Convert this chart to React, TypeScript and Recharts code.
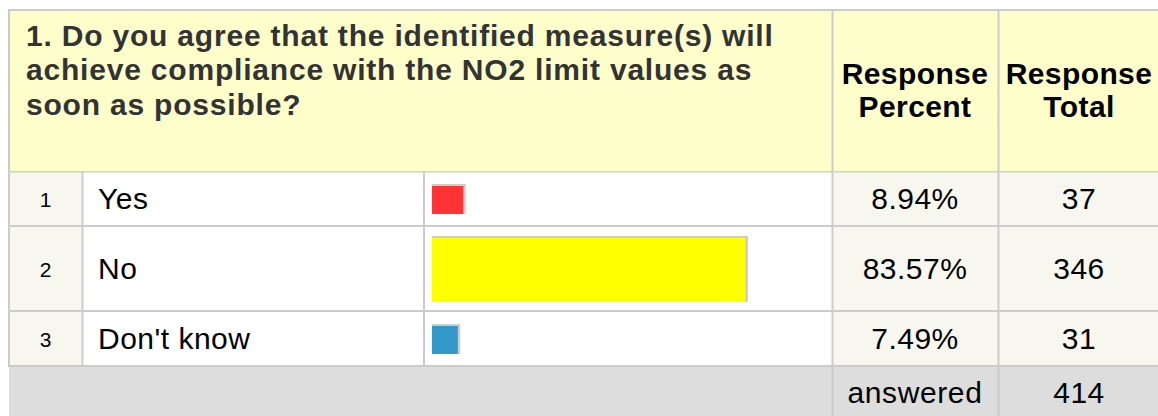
import React from "react";
import { BarChart, Bar, XAxis, YAxis } from "recharts";

const questionLines = [
  "1. Do you agree that the identified measure(s) will",
  "achieve compliance with the NO2 limit values as",
  "soon as possible?",
];
const rowNumbers = ["1", "2", "3"];
const labels = ["Yes", "No", "Don't know"];
const percents = [8.94, 83.57, 7.49];
const totals = [37, 346, 31];
const answeredLabel = "answered";
const answeredTotal = 414;

// styling / layout constants
const barColors = ["#ff3333", "#ffff00", "#3399cc"];
const barSizes = [30, 66, 30];
const rowTops = [172, 227, 312];
const rowHeights = [53, 83, 53];
const FONT = "'Liberation Sans', Arial, sans-serif";
const BORDER = "#cccccc";
const BAR_LEFT = 432;
const BAR_W = 378;

const ShadowBar = (props: any) => {
  const { x, y, width, height, fill } = props;
  if (!width || width <= 0) return null;
  return (
    <g>
      <rect x={x} y={y} width={width} height={height} fill="#cccccc" />
      <rect x={x} y={y + 2} width={Math.max(0, width - 2.5)} height={height - 2} fill={fill} />
    </g>
  );
};

export default function App() {
  const W = 1158;
  const H = 416;
  return (
    <div style={{ position: "absolute", left: 0, top: 0, width: W, height: H, background: "#fff" }}>
      <svg width={W} height={H} style={{ position: "absolute", left: 0, top: 0 }} fontFamily={FONT}>
        {/* header background */}
        <rect x={8} y={9} width={W - 8} height={163} fill="#ffffcc" />
        {/* body shaded columns */}
        <rect x={8} y={172} width={75} height={194} fill="#f7f7ef" />
        <rect x={832} y={172} width={W - 832} height={194} fill="#f7f7ef" />
        {/* footer */}
        <rect x={9} y={366} width={W - 9} height={50} fill="#dddddd" />

        {/* grid lines */}
        <rect x={8} y={9} width={W - 8} height={2} fill={BORDER} />
        <rect x={8} y={9} width={2} height={358} fill={BORDER} />
        <rect x={8} y={171} width={W - 8} height={1.5} fill="#d4d4c0" />
        <rect x={8} y={225} width={W - 8} height={2} fill={BORDER} />
        <rect x={8} y={310} width={W - 8} height={2} fill={BORDER} />
        <rect x={8} y={365} width={W - 8} height={2} fill={BORDER} />
        <rect x={81.5} y={172} width={2} height={194} fill={BORDER} />
        <rect x={423} y={172} width={2} height={194} fill={BORDER} />
        <rect x={831.5} y={9} width={2} height={H - 9} fill={BORDER} />
        <rect x={997.5} y={9} width={2} height={H - 9} fill={BORDER} />

        {/* question */}
        {questionLines.map((t, i) => (
          <text key={i} x={26} y={45.5 + i * 34.7} fontSize={30} fontWeight="bold" fill="#333333" letterSpacing={0.8}>
            {t}
          </text>
        ))}
        {/* column headers */}
        <text x={915} y={83.5} fontSize={30} fontWeight="bold" fill="#000" textAnchor="middle" letterSpacing={0.4}>Response</text>
        <text x={915} y={117} fontSize={30} fontWeight="bold" fill="#000" textAnchor="middle" letterSpacing={0.4}>Percent</text>
        <text x={1079} y={83.5} fontSize={30} fontWeight="bold" fill="#000" textAnchor="middle" letterSpacing={0.4}>Response</text>
        <text x={1079} y={117} fontSize={30} fontWeight="bold" fill="#000" textAnchor="middle" letterSpacing={0.4}>Total</text>

        {/* rows */}
        {labels.map((lab, i) => {
          const c = rowTops[i] + rowHeights[i] / 2;
          return (
            <g key={lab}>
              <text x={45.5} y={c + 8} fontSize={21} fill="#000" textAnchor="middle">{rowNumbers[i]}</text>
              <text x={98} y={c + 10.8} fontSize={30} fill="#000" letterSpacing={0.5}>{lab}</text>
              <text x={915} y={c + 10.8} fontSize={30} fill="#000" textAnchor="middle" letterSpacing={0.5}>{percents[i].toFixed(2) + "%"}</text>
              <text x={1079} y={c + 10.8} fontSize={30} fill="#000" textAnchor="middle" letterSpacing={0.5}>{String(totals[i])}</text>
            </g>
          );
        })}

        {/* footer */}
        <text x={915} y={403} fontSize={30} fill="#000" textAnchor="middle" letterSpacing={0.6}>{answeredLabel}</text>
        <text x={1079} y={403} fontSize={30} fill="#000" textAnchor="middle" letterSpacing={0.5}>{String(answeredTotal)}</text>
      </svg>

      {labels.map((lab, i) => (
        <div key={lab} style={{ position: "absolute", left: BAR_LEFT, top: rowTops[i], width: BAR_W, height: rowHeights[i] }}>
          <BarChart
            width={BAR_W}
            height={rowHeights[i]}
            data={[{ label: lab, percent: percents[i] }]}
            layout="vertical"
            margin={{ top: 0, right: 0, bottom: 0, left: 0 }}
          >
            <XAxis type="number" domain={[0, 100]} hide />
            <YAxis type="category" dataKey="label" hide />
            <Bar
              dataKey="percent"
              fill={barColors[i]}
              barSize={barSizes[i]}
              isAnimationActive={false}
              shape={ShadowBar}
            />
          </BarChart>
        </div>
      ))}
    </div>
  );
}
